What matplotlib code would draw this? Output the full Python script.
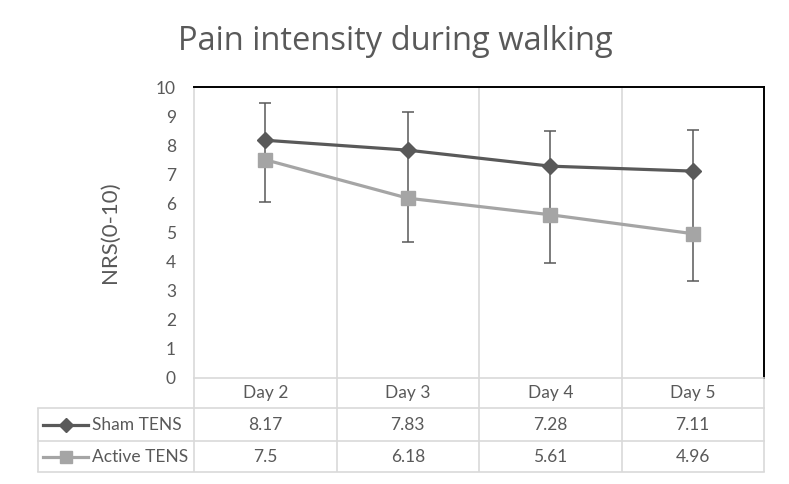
import matplotlib
matplotlib.use('Agg')
import matplotlib.pyplot as plt
import matplotlib.transforms as mtransforms
import numpy as np

plt.rcParams['font.family'] = ['Lato', 'DejaVu Sans']

# data
days = ['Day 2', 'Day 3', 'Day 4', 'Day 5']
sham = [8.17, 7.83, 7.28, 7.11]
active = [7.5, 6.18, 5.61, 4.96]
sham_upper = [9.44, 9.13, 8.49, 8.53]    # top of the error bars
active_lower = [6.06, 4.68, 3.94, 3.34]  # bottom of the error bars
series_names = ['Sham TENS', 'Active TENS']
yticks = list(range(0, 11))

txt = '#595959'
grid = '#D9D9D9'
c_sham = '#595959'
c_active = '#A5A5A5'

W, H = 789, 484
fig = plt.figure(figsize=(W / 100, H / 100), dpi=100)

# overlay in pixel coordinates for the data table
ov = fig.add_axes([0, 0, 1, 1], zorder=0)
ov.set_xlim(0, W)
ov.set_ylim(H, 0)
ov.axis('off')

ax = fig.add_axes([194 / W, 1 - 378 / H, (764 - 194) / W, (378 - 87) / H], zorder=1)
ax.patch.set_alpha(0)
x = np.arange(len(days))

ax.errorbar(x, sham, yerr=np.array([np.zeros(len(x)), np.array(sham_upper) - np.array(sham)]),
            fmt='none', ecolor=c_sham, elinewidth=1.1, capsize=4, capthick=1.1, zorder=2)
ax.vlines(x, active, sham, color=c_sham, lw=1.1, zorder=2)
ax.errorbar(x, active, yerr=np.array([np.array(active) - np.array(active_lower), np.zeros(len(x))]),
            fmt='none', ecolor=c_sham, elinewidth=1.1, capsize=4, capthick=1.1, zorder=2)

ax.plot(x, sham, color=c_sham, lw=2.3, marker='D', ms=8.5, zorder=4)
ax.plot(x, active, color=c_active, lw=2.3, marker='s', ms=10, zorder=3)

ax.set_xlim(-0.5, len(days) - 0.5)
ax.set_ylim(0, 10)
ax.set_yticks(yticks)
ax.set_yticklabels([str(v) for v in yticks], fontsize=12.5, color=txt)
ax.tick_params(axis='y', length=0, pad=13)
ax.set_xticks([])
ax.set_xticks(np.arange(len(days) - 1) + 0.5, minor=True)
ax.tick_params(axis='x', which='both', length=0)
ax.grid(True, axis='x', which='minor', color=grid, lw=1.2)
for s in ['top', 'right']:
    ax.spines[s].set_color('black')
    ax.spines[s].set_linewidth(1.4)
for s in ['left', 'bottom']:
    ax.spines[s].set_color(grid)
    ax.spines[s].set_linewidth(1.2)

ax.set_ylabel('NRS(0-10)', fontsize=16, color=txt, labelpad=26)
fig.text(395 / W, 1 - 41 / H, 'Pain intensity during walking', ha='center', va='center',
         fontsize=23.5, color=txt, family=['Open Sans', 'DejaVu Sans'])

# data table under the chart
tr = mtransforms.blended_transform_factory(ax.transData, ov.transData)
row_y = [378, 408, 441, 472]
bounds = np.arange(len(days) + 1) - 0.5
ov.vlines(bounds, row_y[0], row_y[-1], color=grid, lw=1.2, transform=tr)
ov.vlines(38, row_y[1], row_y[-1], color=grid, lw=1.2)
for yy in row_y[1:]:
    ov.plot([38, 764], [yy, yy], color=grid, lw=1.2)

for i, d in enumerate(days):
    ov.text(i, (row_y[0] + row_y[1]) / 2, d, transform=tr, ha='center', va='center',
            fontsize=12.5, color=txt)
for r, (name, vals, col, mk, ms) in enumerate(zip(series_names, [sham, active],
                                                   [c_sham, c_active], ['D', 's'], [7, 8.5])):
    yc = (row_y[r + 1] + row_y[r + 2]) / 2
    ov.plot([43, 88], [yc, yc], color=col, lw=2.3)
    ov.plot([66], [yc], marker=mk, ms=ms, color=col)
    ov.text(92, yc, name, ha='left', va='center', fontsize=12.5, color=txt)
    for i, v in enumerate(vals):
        ov.text(i, yc, f'{v:g}', transform=tr, ha='center', va='center', fontsize=12.5, color=txt)

fig.savefig('out.png', dpi=100)
